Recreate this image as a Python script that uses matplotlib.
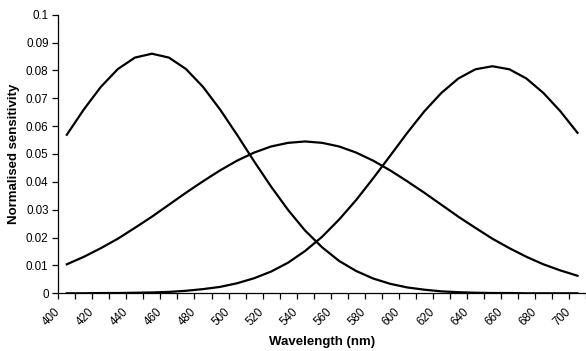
import matplotlib
matplotlib.use("Agg")
import matplotlib.pyplot as plt
import matplotlib.transforms as mtrans
import numpy as np

plt.rcParams["font.family"] = ["Liberation Sans", "DejaVu Sans"]

# wavelengths of the sampled points (nm)
wavelength = [405, 415, 425, 435, 445, 455, 465, 475, 485, 495, 505,
              515, 525, 535, 545, 555, 565, 575, 585, 595, 605,
              615, 625, 635, 645, 655, 665, 675, 685, 695, 705]

# short-wave cone
s_cone = [0.0569, 0.0660, 0.0741, 0.0805, 0.0846, 0.0860, 0.0846, 0.0805, 0.0741, 0.0660, 0.0569,
          0.0474, 0.0383, 0.0299, 0.0225, 0.0165, 0.0116, 0.0080, 0.0053, 0.0034, 0.0021,
          0.0013, 0.0007, 0.0004, 0.0002, 0.0001, 0.0001, 0.0000, 0.0000, 0.0000, 0.0000]

# medium-wave cone
m_cone = [0.0104, 0.0131, 0.0162, 0.0196, 0.0235, 0.0275, 0.0318, 0.0361, 0.0402, 0.0441, 0.0476,
          0.0505, 0.0527, 0.0540, 0.0545, 0.0540, 0.0527, 0.0505, 0.0476, 0.0441, 0.0402,
          0.0361, 0.0318, 0.0275, 0.0235, 0.0196, 0.0162, 0.0131, 0.0104, 0.0082, 0.0063]

# long-wave cone
l_cone = [0.0000, 0.0000, 0.0001, 0.0001, 0.0002, 0.0003, 0.0005, 0.0009, 0.0015, 0.0023, 0.0036,
          0.0054, 0.0078, 0.0110, 0.0152, 0.0203, 0.0265, 0.0335, 0.0413, 0.0494, 0.0576,
          0.0653, 0.0719, 0.0771, 0.0804, 0.0815, 0.0804, 0.0771, 0.0719, 0.0653, 0.0576]

x_labels = list(range(400, 701, 20))
y_ticks = [round(0.01 * i, 2) for i in range(11)]

fig = plt.figure(figsize=(5.86, 3.51), dpi=100)
ax = fig.add_axes([58.3 / 586, 57.7 / 351, 1 - 58.3 / 586, 278.6 / 351])

for series in (s_cone, m_cone, l_cone):
    ax.plot(wavelength, series, color="black", lw=1.6, solid_joinstyle="miter")

ax.set_xlim(400, 707.7)
ax.set_ylim(0, 0.1)
ax.set_xticks(range(400, 711, 10), minor=True)
ax.set_xticks(x_labels)
ax.set_xticklabels([str(v) for v in x_labels], rotation=45, ha="right")
ax.set_yticks(y_ticks)
ax.set_yticklabels(["0" if v == 0 else f"{v:g}" for v in y_ticks])

for s in ("top", "right"):
    ax.spines[s].set_visible(False)
for s in ("left", "bottom"):
    ax.spines[s].set_linewidth(0.9)

ax.tick_params(axis="both", which="both", direction="out", length=4, width=0.9,
               colors="black")
ax.tick_params(axis="x", which="major", pad=5, labelsize=8.3)
ax.tick_params(axis="y", pad=3, labelsize=8.4)

# rotated labels end a little right of their tick
shift = mtrans.ScaledTranslation(4 / 100, 0, fig.dpi_scale_trans)
for lbl in ax.get_xticklabels():
    lbl.set_transform(lbl.get_transform() + shift)

ax.set_xlabel("Wavelength (nm)", fontsize=9.5, fontweight="bold", labelpad=6)
ax.set_ylabel("Normalised sensitivity", fontsize=9.5, fontweight="bold", labelpad=4)

fig.savefig("out.png", dpi=100)
